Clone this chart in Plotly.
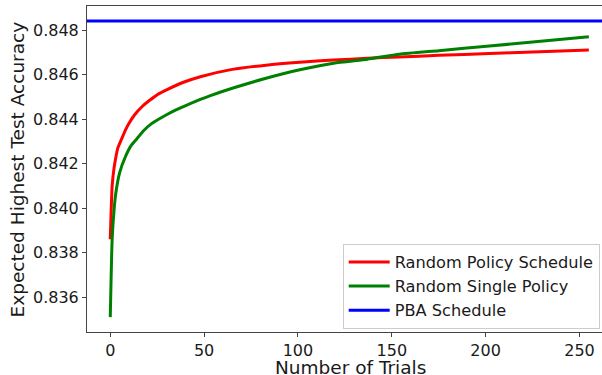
import plotly.graph_objects as go

# Data
trials_red = [0, 1, 2, 3, 4, 6, 8, 10, 13, 17, 21, 26, 30, 39, 48, 65, 83, 101, 119, 137, 154, 175, 202, 225, 255]
random_policy_schedule = [0.8386, 0.8410, 0.8418, 0.8423, 0.8427, 0.8431, 0.8435, 0.84382, 0.8442, 0.84457,
                          0.84485, 0.84515, 0.84532, 0.84566, 0.84591, 0.84624, 0.84643, 0.84656, 0.84666,
                          0.84674, 0.84680, 0.84687, 0.84695, 0.84702, 0.84711]

trials_green = [0, 1, 2, 3, 5, 8, 11, 14, 18, 22, 30, 35, 39, 48, 53, 65, 83, 101, 119, 137, 154, 175, 202, 225, 255]
random_single_policy = [0.8351, 0.8386, 0.8399, 0.8407, 0.8416, 0.8423, 0.8428, 0.8431, 0.8435, 0.8438,
                        0.8442, 0.84442, 0.84457, 0.84489, 0.84505, 0.84539, 0.84584, 0.84622, 0.84652,
                        0.84670, 0.84692, 0.84708, 0.84729, 0.84747, 0.84771]

pba_schedule = 0.84842

series_names = ["Random Policy Schedule", "Random Single Policy", "PBA Schedule"]
series_colors = ["#ff0000", "#008000", "#0000ff"]

x_ticks = [0, 50, 100, 150, 200, 250]
y_ticks = [0.836, 0.838, 0.840, 0.842, 0.844, 0.846, 0.848]

FONT = "DejaVu Sans"
TXT = "#1a1a1a"
fig = go.Figure()
fig.add_trace(go.Scatter(x=trials_red, y=random_policy_schedule, mode="lines", name=series_names[0],
                         line=dict(color=series_colors[0], width=3, shape="spline", smoothing=0.5)))
fig.add_trace(go.Scatter(x=trials_green, y=random_single_policy, mode="lines", name=series_names[1],
                         line=dict(color=series_colors[1], width=3, shape="spline", smoothing=0.5)))
fig.add_trace(go.Scatter(x=[None], y=[None], mode="lines", name=series_names[2],
                         line=dict(color=series_colors[2], width=3)))
fig.add_hline(y=pba_schedule, line=dict(color=series_colors[2], width=3))

fig.add_annotation(text="Number of Trials", xref="paper", yref="paper", x=0.5107, y=-0.11,
                   xanchor="center", yanchor="middle", showarrow=False,
                   font=dict(family=FONT, size=18.5, color=TXT))
fig.add_annotation(text="Expected Highest Test Accuracy", xref="paper", yref="paper", x=-0.135, y=0.5,
                   xanchor="center", yanchor="middle", textangle=-90, showarrow=False,
                   font=dict(family=FONT, size=18.5, color=TXT))

axis_color = "#444444"
fig.update_layout(
    width=602, height=375,
    margin=dict(l=87, r=0, t=6, b=43),
    paper_bgcolor="white", plot_bgcolor="white",
    font=dict(family=FONT, size=16, color=TXT),
    showlegend=True,
    legend=dict(x=0.4965, y=0.27, xanchor="left", yanchor="top",
                bgcolor="white", bordercolor="#cccccc", borderwidth=1,
                font=dict(family=FONT, size=16.2, color=TXT),
                tracegroupgap=0, itemwidth=41),
    xaxis=dict(range=[-12.4, 262.0], tickvals=x_ticks, ticks="outside", ticklen=4,
               tickcolor=axis_color, showline=True, linecolor=axis_color, linewidth=1,
               mirror=True, showgrid=False, zeroline=False, automargin=False,
               tickfont=dict(size=16)),
    yaxis=dict(range=[0.83443, 0.84909], tickvals=y_ticks, tickformat=".3f", ticks="outside", ticklen=4,
               tickcolor=axis_color, showline=True, linecolor=axis_color, linewidth=1,
               showgrid=False, zeroline=False, automargin=False,
               tickfont=dict(size=16)),
)

fig.write_html("out.html", config={"displayModeBar": False},
               post_script="document.body.style.margin='0';")
